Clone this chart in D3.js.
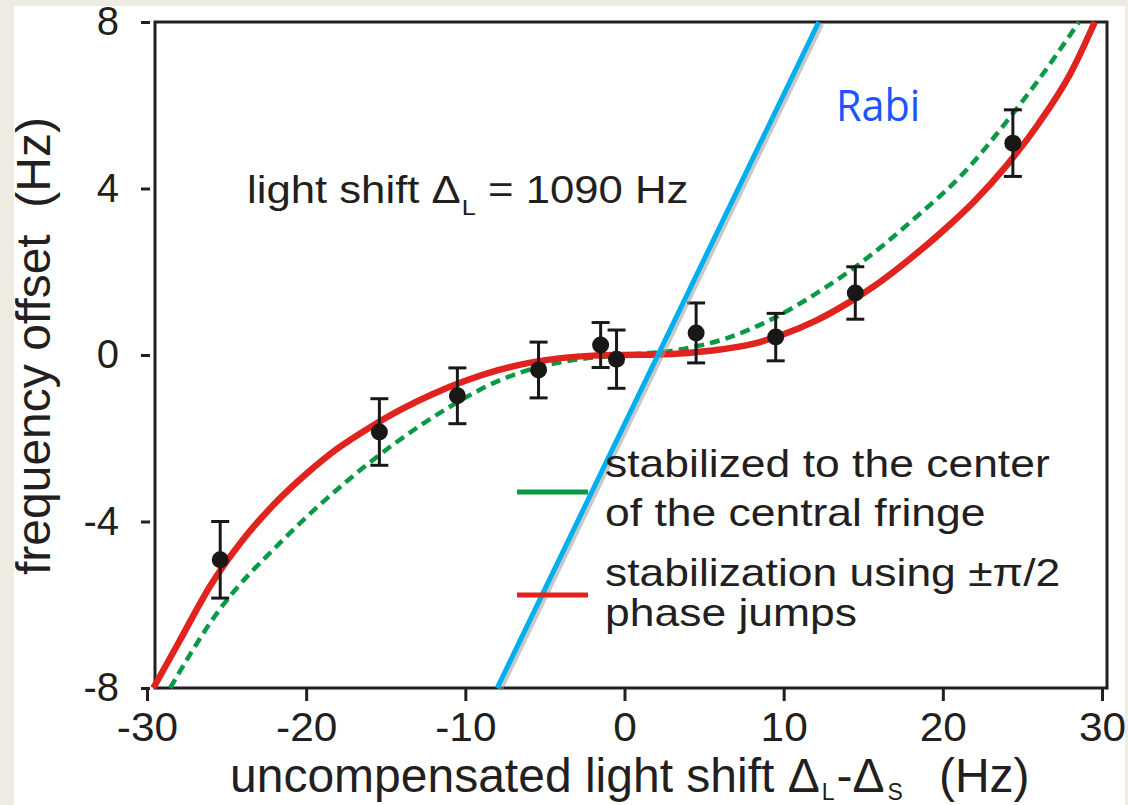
<!DOCTYPE html>
<html lang="en">
<head>
<meta charset="UTF-8">
<script src="https://d3js.org/d3.v7.min.js"></script>
<style>
    body { margin: 0; background-color: #eeebe3; }
    #viz { display: block; }
    text { font-family: "Liberation Sans", Arial, sans-serif; fill: #231f20; }
</style>
</head>
<body>
<svg id="viz" width="1128" height="805"></svg>
<script>

    // measured data points (Hz) with error bars
    var pointX = [-25.4, -15.4, -10.5, -5.4, -1.5, -0.5, 4.5, 9.5, 14.5, 24.4];
    var pointY = [-4.92, -1.85, -0.98, -0.36, 0.24, -0.1, 0.53, 0.43, 1.49, 5.09];
    var pointErr = [0.92, 0.8, 0.67, 0.67, 0.54, 0.7, 0.72, 0.57, 0.63, 0.8];

    // red curve: stabilization using +-pi/2 phase jumps
    var redX = [-29.6, -28, -26, -24, -22, -20, -18, -16, -14, -12, -10, -8, -6, -4, -2, 0, 2, 4, 6, 8, 10, 12, 14, 16, 18, 20, 22, 24, 26, 28, 29.55];
    var redY = [-8, -6.9, -5.53, -4.45, -3.58, -2.86, -2.24, -1.74, -1.3, -0.93, -0.62, -0.37, -0.19, -0.075, -0.015, 0, 0.01, 0.05, 0.13, 0.26, 0.5, 0.82, 1.24, 1.74, 2.33, 2.98, 3.7, 4.55, 5.55, 6.75, 8];

    // green dashed curve: stabilized to the center of the central fringe
    var greenX = [-28.55, -25.6, -21.45, -17.5, -14.7, -11, -7.8, -5.4, -3.2, 0, 3.3, 6.4, 9.5, 12.7, 14.8, 18.1, 21.3, 24.4, 25.9, 28.55];
    var greenY = [-8, -6.2, -4.44, -3.05, -2.2, -1.25, -0.6, -0.29, -0.12, 0, 0.12, 0.4, 0.91, 1.64, 2.2, 3.24, 4.37, 5.8, 6.55, 8];

    // Rabi line
    var rabiX = [-8, 12.2];
    var rabiY = [-8, 8];

    var xTicks = [-30, -20, -10, 0, 10, 20, 30];
    var yTicks = [-8, -4, 0, 4, 8];

    var svg = d3.select("#viz");

    // white page area
    svg.append("rect").attr("x", 14).attr("y", 6).attr("width", 1111).attr("height", 799).attr("fill", "#fff");

    var x = d3.scaleLinear().domain([-30, 30]).range([147, 1102]);
    var y = d3.scaleLinear().domain([-8, 8]).range([688, 22]);

    var box = {left: 155, right: 1107, top: 22, bottom: 688};

    // x ticks
    var xAxis = svg.append("g").attr("transform", "translate(0," + box.bottom + ")")
        .call(d3.axisBottom(x).tickValues(xTicks).tickSize(13).tickPadding(12)
            .tickFormat(function(d) { return String(d); }));
    xAxis.select(".domain").remove();
    xAxis.selectAll("line").attr("stroke", "#231f20").attr("stroke-width", 3);
    xAxis.selectAll("text").attr("font-size", 40).attr("fill", "#231f20")
        .attr("font-family", "Liberation Sans, Arial, sans-serif")
        .attr("transform", "scale(1.06,1)");

    // y ticks
    var yAxis = svg.append("g").attr("transform", "translate(150,0)")
        .call(d3.axisLeft(y).tickValues(yTicks).tickSize(9).tickPadding(22)
            .tickFormat(function(d) { return String(d); }));
    yAxis.select(".domain").remove();
    yAxis.selectAll("line").attr("stroke", "#231f20").attr("stroke-width", 3);
    yAxis.selectAll("text").attr("font-size", 40).attr("fill", "#231f20")
        .attr("font-family", "Liberation Sans, Arial, sans-serif");

    // frame
    svg.append("rect")
        .attr("x", box.left).attr("y", box.top)
        .attr("width", box.right - box.left).attr("height", box.bottom - box.top)
        .attr("fill", "none").attr("stroke", "#231f20").attr("stroke-width", 3);

    var line = d3.line()
        .x(function(d) { return x(d[0]); })
        .y(function(d) { return y(d[1]); })
        .curve(d3.curveMonotoneX);

    var greenData = greenX.map(function(v, i) { return [v, greenY[i]]; });
    var redData = redX.map(function(v, i) { return [v, redY[i]]; });

    svg.append("path").datum(greenData).attr("d", line)
        .attr("fill", "none").attr("stroke", "#0a9a46").attr("stroke-width", 4.5)
        .attr("stroke-dasharray", "10,6");

    svg.append("path").datum(redData).attr("d", line)
        .attr("fill", "none").attr("stroke", "#e0231f").attr("stroke-width", 6.5);

    // error bars and points
    var pts = svg.append("g").selectAll("g")
        .data(pointX.map(function(v, i) { return {x: v, y: pointY[i], e: pointErr[i]}; }))
        .enter().append("g");

    pts.append("line")
        .attr("x1", function(d) { return x(d.x); }).attr("x2", function(d) { return x(d.x); })
        .attr("y1", function(d) { return y(d.y + d.e); }).attr("y2", function(d) { return y(d.y - d.e); })
        .attr("stroke", "#1a1717").attr("stroke-width", 3);
    [1, -1].forEach(function(s) {
        pts.append("line")
            .attr("x1", function(d) { return x(d.x) - 9; }).attr("x2", function(d) { return x(d.x) + 9; })
            .attr("y1", function(d) { return y(d.y + s * d.e); }).attr("y2", function(d) { return y(d.y + s * d.e); })
            .attr("stroke", "#1a1717").attr("stroke-width", 3);
    });
    pts.append("circle")
        .attr("cx", function(d) { return x(d.x); }).attr("cy", function(d) { return y(d.y); })
        .attr("r", 8.5).attr("fill", "#1a1717");

    // Rabi line with a soft shadow
    var rabiData = rabiX.map(function(v, i) { return [v, rabiY[i]]; });
    var straight = d3.line().x(function(d) { return x(d[0]); }).y(function(d) { return y(d[1]); });
    svg.append("path").datum(rabiData).attr("d", straight)
        .attr("transform", "translate(3,2)")
        .attr("stroke", "#9a9a9a").attr("stroke-width", 5).attr("opacity", 0.55).attr("fill", "none");
    svg.append("path").datum(rabiData).attr("d", straight)
        .attr("stroke", "#00b0ee").attr("stroke-width", 5).attr("fill", "none");

    svg.append("text").attr("transform", "translate(836,121) scale(0.94,1)")
        .attr("font-size", 44)
        .style("fill", "#1c55ff").style("font-family", "Open Sans, sans-serif")
        .text("Rabi");

    // annotation
    var ann = svg.append("text").attr("transform", "translate(247,203) scale(1.15,1)").attr("font-size", 38);
    ann.append("tspan").text("light shift \u0394");
    ann.append("tspan").attr("font-size", 22).attr("dy", 12).attr("dx", 1).text("L");
    ann.append("tspan").attr("dy", -12).text(" = 1090 Hz");

    // legend
    svg.append("line").attr("x1", 517).attr("x2", 588).attr("y1", 492).attr("y2", 492)
        .attr("stroke", "#0a9a46").attr("stroke-width", 5);
    svg.append("line").attr("x1", 517).attr("x2", 588).attr("y1", 595).attr("y2", 595)
        .attr("stroke", "#e0231f").attr("stroke-width", 5);

    var legendLines = [
        ["stabilized to the center", 477],
        ["of the central fringe", 526],
        ["stabilization using \u00b1\u03c0/2", 586],
        ["phase jumps", 626]
    ];
    legendLines.forEach(function(l) {
        svg.append("text").attr("transform", "translate(605," + l[1] + ") scale(1.17,1)")
            .attr("font-size", 38).text(l[0]);
    });

    // axis titles
    var xt = svg.append("text").attr("x", 230).attr("y", 792).attr("font-size", 48);
    xt.append("tspan").text("uncompensated light shift \u0394");
    xt.append("tspan").attr("font-size", 23).attr("dy", 8).attr("dx", 2).text("L");
    xt.append("tspan").attr("dy", -8).attr("dx", 2).text("-\u0394");
    xt.append("tspan").attr("font-size", 23).attr("dy", 8).attr("dx", 3).text("S");
    xt.append("tspan").attr("dy", -8).attr("dx", 36).text("(Hz)");

    svg.append("text")
        .attr("transform", "translate(50,346) rotate(-90)")
        .attr("text-anchor", "middle").attr("font-size", 48)
        .attr("xml:space", "preserve")
        .text("frequency offset  (Hz)");

</script>
</body>
</html>
